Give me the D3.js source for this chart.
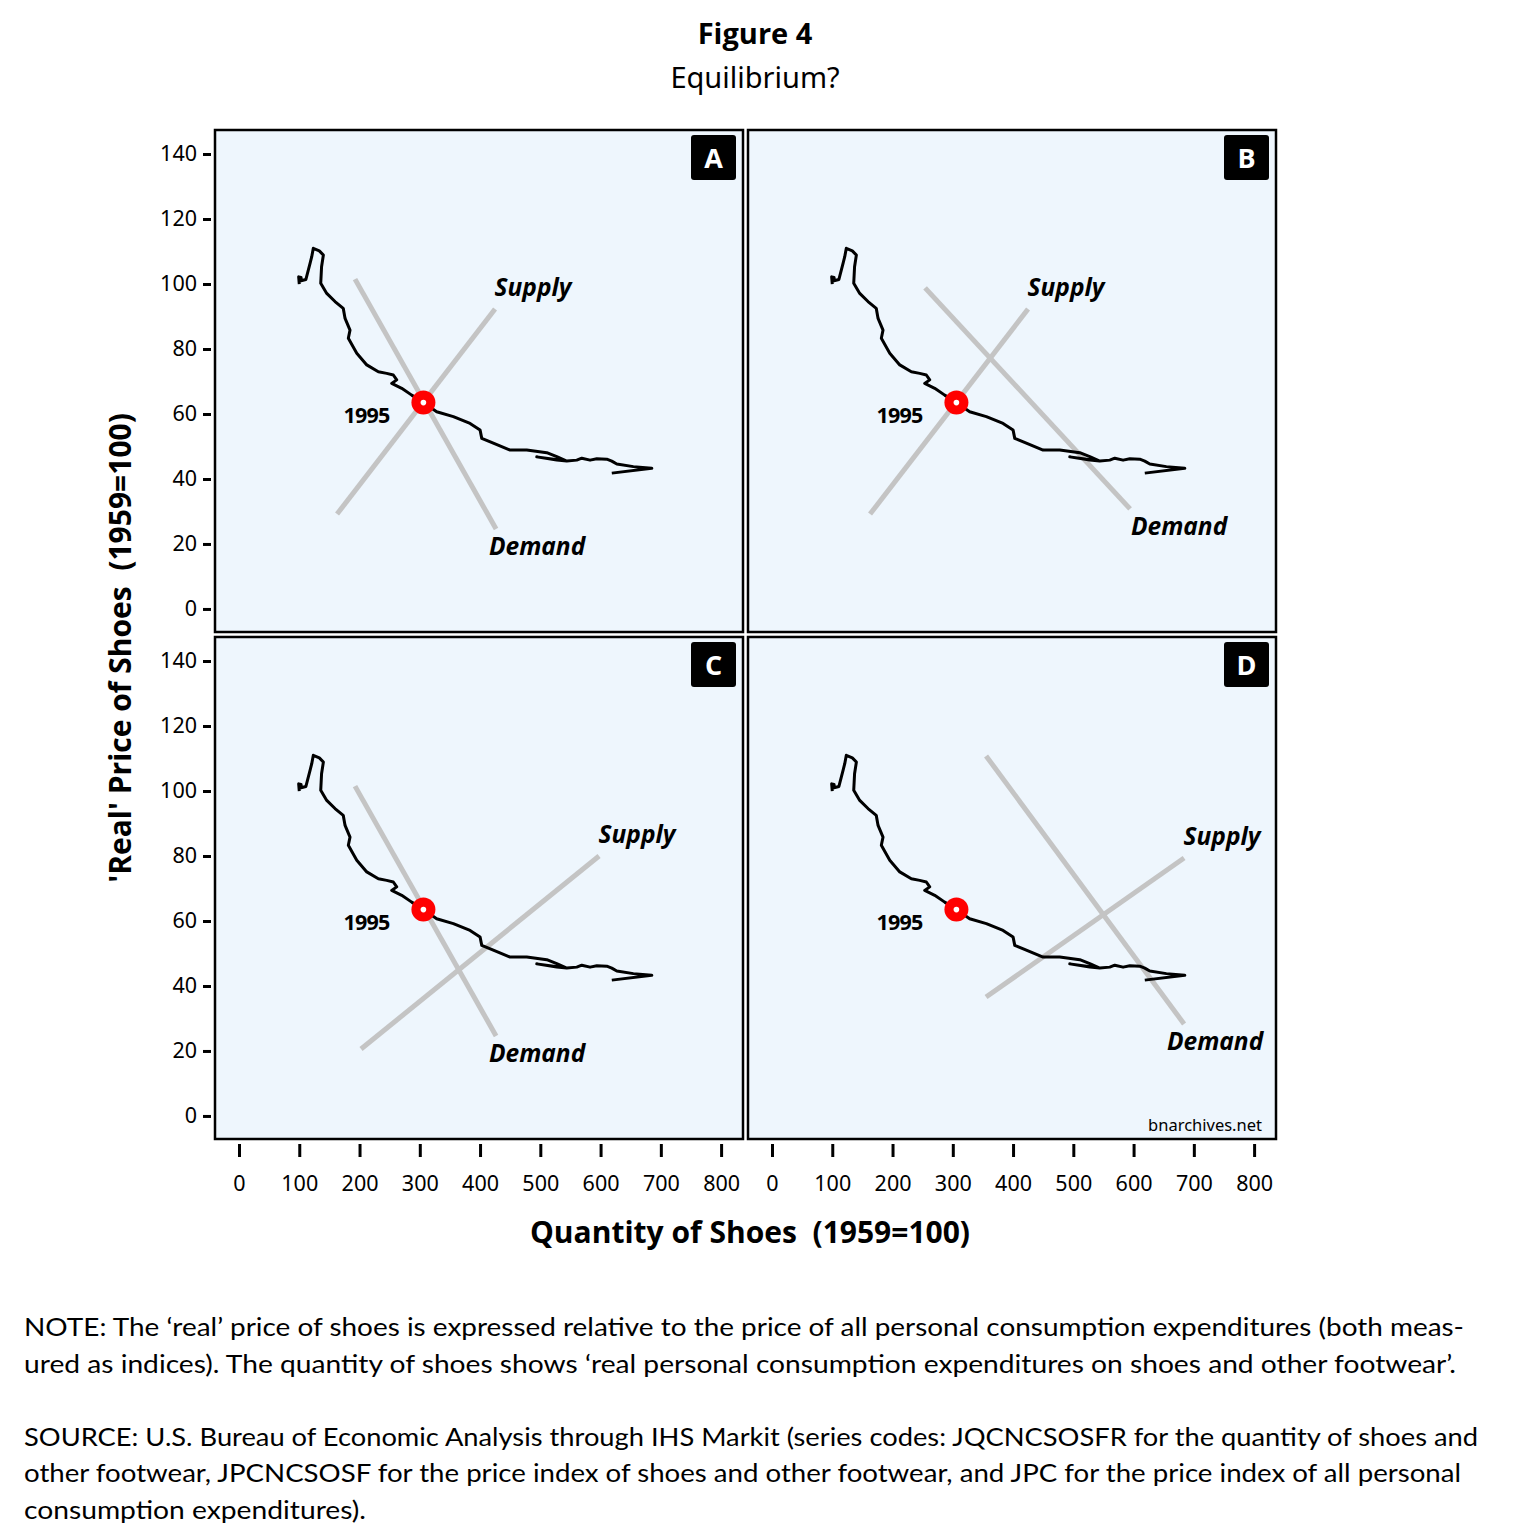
<!DOCTYPE html>
<html>
<head>
<meta charset="utf-8">
<script src="https://cdn.jsdelivr.net/npm/d3@7"></script>
<style>
  html, body { margin: 0; padding: 0; background: #ffffff; }
  svg { display: block; }
</style>
</head>
<body>
<svg id="chart" width="1514" height="1540"></svg>
<script>
// ---------------- DATA ----------------
const panelIds = ["A", "B", "C", "D"];

// Shoe market path (quantity index, real price index), 1959 = 100
const quantity = [100, 99, 103, 103, 111, 118, 120.7, 123.3, 133.3, 140, 137, 135.6, 145.6, 159.3, 173, 176,
  184.2, 181.4, 195.4, 212, 231.2, 245.1, 256.1, 261.7, 253.4, 270, 286.6, 306, 328, 355.7, 383.4, 400,
  402.8, 422, 449.8, 477.5, 510.7, 527.3, 543.9, 494.1, 527.3, 543.9, 560.5, 568.8, 582.6, 593.7, 610.3,
  618.6, 626.9, 654.4, 685, 618.6];
const price = [100, 102.2, 102, 101, 101.4, 106.4, 108.4, 111, 110.2, 108.9, 105.3, 100.2, 97.1, 94.6, 92.5, 89.4,
  85.8, 83.3, 78.7, 75.1, 73, 72.5, 72, 70.5, 69.4, 67.9, 65.8, 63.5, 60.7, 59.2, 57.1, 55.1,
  52.5, 51, 48.9, 48.9, 48.1, 46.9, 45.5, 46.8, 45.8, 45.5, 45.8, 46.4, 45.8, 46.2, 46.1,
  45.5, 44.6, 43.8, 43.3, 41.8];

// 1995 observation
const markerLabel = "1995";
const markerQuantity = 306;
const markerPrice = 63.5;

// Hypothetical supply lines per panel: [q0, p0, q1, p1]
const supplyLines = [
  [162.7, 29.2, 424.9, 92.3],
  [162.7, 29.2, 424.9, 92.3],
  [202.5, 20.6, 597.5, 80.0],
  [355.2, 36.6, 683.8, 79.4]
];
// Hypothetical demand lines per panel: [q0, p0, q1, p1]
const demandLines = [
  [192.5, 101.5, 426.6, 24.6],
  [254.0, 98.8, 594.2, 30.8],
  [192.5, 101.5, 426.6, 24.6],
  [355.2, 110.8, 683.8, 28.3]
];

const xTicks = [0, 100, 200, 300, 400, 500, 600, 700, 800];
const yTicks = [0, 20, 40, 60, 80, 100, 120, 140];

const titleText = "Figure 4";
const subtitleText = "Equilibrium?";
const xTitle = "Quantity of Shoes\u00a0 (1959=100)";
const yTitle = "'Real' Price of Shoes\u00a0 (1959=100)";
const watermark = "bnarchives.net";
const noteLines = [
  "NOTE: The \u2018real\u2019 price of shoes is expressed relative to the price of all personal consumption expenditures (both meas-",
  "ured as indices). The quantity of shoes shows \u2018real personal consumption expenditures on shoes and other footwear\u2019.",
  "",
  "SOURCE: U.S. Bureau of Economic Analysis through IHS Markit (series codes: JQCNCSOSFR for the quantity of shoes and",
  "other footwear, JPCNCSOSF for the price index of shoes and other footwear, and JPC for the price index of all personal",
  "consumption expenditures)."
];
const noteWidths = [1440, 1432, 0, 1454, 1437, 342];

// ---------------- LAYOUT ----------------
const svg = d3.select("#chart");
const panelW = 530, panelH = 504;
const colX = [214, 747];
const rowY = [129, 636];
const xDomain = [-41.5, 838];
const yDomain = [-7.4, 147.7];

const tickFont = "'Noto Sans', 'Open Sans', sans-serif";
const boldFont = "'Open Sans', 'Noto Sans', sans-serif";

// Title
svg.append("text").attr("x", 755).attr("y", 44).attr("text-anchor", "middle")
  .attr("font-family", boldFont).attr("font-weight", 700).attr("font-size", 29)
  .attr("fill", "#000").text(titleText);
svg.append("text").attr("x", 755).attr("y", 88).attr("text-anchor", "middle")
  .attr("font-family", tickFont).attr("font-size", 29)
  .attr("fill", "#000").text(subtitleText);

const line = d3.line();

panelIds.forEach((id, i) => {
  const col = i % 2, row = Math.floor(i / 2);
  const left = colX[col], top = rowY[row];
  const x = d3.scaleLinear().domain(xDomain).range([left, left + panelW]);
  const y = d3.scaleLinear().domain(yDomain).range([top + panelH, top]);

  const g = svg.append("g");
  const clipId = "clip" + id;
  svg.append("clipPath").attr("id", clipId).append("rect")
    .attr("x", left).attr("y", top).attr("width", panelW).attr("height", panelH);

  g.append("rect").attr("x", left).attr("y", top).attr("width", panelW).attr("height", panelH)
    .attr("fill", "#eef6fd");

  const inner = g.append("g").attr("clip-path", `url(#${clipId})`);

  // supply & demand lines
  const s = supplyLines[i], d = demandLines[i];
  inner.append("path").attr("d", line([[x(s[0]), y(s[1])], [x(s[2]), y(s[3])]]))
    .attr("stroke", "#c4c4c4").attr("stroke-width", 5).attr("fill", "none");
  inner.append("path").attr("d", line([[x(d[0]), y(d[1])], [x(d[2]), y(d[3])]]))
    .attr("stroke", "#c4c4c4").attr("stroke-width", 5).attr("fill", "none");

  // data path
  const pts = quantity.map((q, k) => [x(q), y(price[k])]);
  inner.append("path").attr("d", line(pts))
    .attr("stroke", "#000").attr("stroke-width", 3).attr("fill", "none")
    .attr("stroke-linejoin", "round").attr("stroke-linecap", "butt");

  // 1995 marker
  inner.append("circle").attr("cx", x(markerQuantity)).attr("cy", y(markerPrice)).attr("r", 12)
    .attr("fill", "#ff0000");
  inner.append("circle").attr("cx", x(markerQuantity)).attr("cy", y(markerPrice)).attr("r", 2.8)
    .attr("fill", "#ffffff");
  inner.append("text").attr("x", x(markerQuantity) - 57).attr("y", y(markerPrice) + 20)
    .attr("text-anchor", "middle").attr("font-family", boldFont).attr("font-weight", 700)
    .attr("font-size", 21.5).attr("letter-spacing", -0.8).attr("fill", "#000").text(markerLabel);

  // line labels
  inner.append("text").attr("x", x(s[2]) + 38).attr("y", y(s[3]) - 13)
    .attr("text-anchor", "middle").attr("font-family", boldFont).attr("font-weight", 700)
    .attr("font-style", "italic").attr("font-size", 24.5).attr("fill", "#000").text("Supply");
  inner.append("text").attr("x", x(d[2]) + (i === 3 ? 31 : (i === 1 ? 49 : 41))).attr("y", y(d[3]) + 26)
    .attr("text-anchor", "middle").attr("font-family", boldFont).attr("font-weight", 700)
    .attr("font-style", "italic").attr("font-size", 24.5).attr("fill", "#000").text("Demand");

  // panel badge
  g.append("rect").attr("x", left + panelW - 53).attr("y", top + 6).attr("width", 45).attr("height", 45)
    .attr("rx", 3).attr("fill", "#000");
  g.append("text").attr("x", left + panelW - 30.5).attr("y", top + 39)
    .attr("text-anchor", "middle").attr("font-family", boldFont).attr("font-weight", 700)
    .attr("font-size", 27).attr("fill", "#fff").text(id);

  // border
  g.append("rect").attr("x", left + 1).attr("y", top + 1).attr("width", panelW - 2).attr("height", panelH - 2)
    .attr("fill", "none").attr("stroke", "#000").attr("stroke-width", 2.5);

  if (id === "D") {
    g.append("text").attr("x", left + panelW - 15).attr("y", top + panelH - 9)
      .attr("text-anchor", "end").attr("font-family", tickFont).attr("font-size", 16.5)
      .attr("fill", "#000").text(watermark);
  }

  // y axis on left column
  if (col === 0) {
    const ax = g.append("g").attr("transform", `translate(${left - 3},0)`)
      .call(d3.axisLeft(y).tickValues(yTicks).tickSize(8).tickPadding(6).tickSizeOuter(0));
    ax.select(".domain").remove();
    ax.selectAll(".tick line").attr("stroke", "#000").attr("stroke-width", 3);
    ax.selectAll(".tick text").attr("font-family", tickFont).attr("font-size", 21.5).attr("fill", "#000");
  }
  // x axis on bottom row
  if (row === 1) {
    const ax = g.append("g").attr("transform", `translate(0,${top + panelH + 4})`)
      .call(d3.axisBottom(x).tickValues(xTicks).tickSize(13).tickPadding(19).tickSizeOuter(0));
    ax.select(".domain").remove();
    ax.selectAll(".tick line").attr("stroke", "#000").attr("stroke-width", 3);
    ax.selectAll(".tick text").attr("font-family", tickFont).attr("font-size", 21.5).attr("fill", "#000");
  }
});

// Axis titles
svg.append("text").attr("x", 750).attr("y", 1243).attr("text-anchor", "middle")
  .attr("font-family", boldFont).attr("font-weight", 700).attr("font-size", 30)
  .attr("fill", "#000").text(xTitle);
svg.append("text").attr("transform", "translate(131,648) rotate(-90)").attr("text-anchor", "middle")
  .attr("font-family", boldFont).attr("font-weight", 700).attr("font-size", 30)
  .attr("fill", "#000").text(yTitle);

// Notes
noteLines.forEach((t, k) => {
  if (!t) return;
  const el = svg.append("text").attr("x", 24).attr("y", 1336 + k * 36.5)
    .attr("font-family", "Lato, 'Noto Sans', sans-serif").attr("font-size", 25.5)
    .attr("fill", "#000").text(t);
  el.attr("textLength", noteWidths[k]).attr("lengthAdjust", "spacingAndGlyphs");
});
</script>
</body>
</html>
